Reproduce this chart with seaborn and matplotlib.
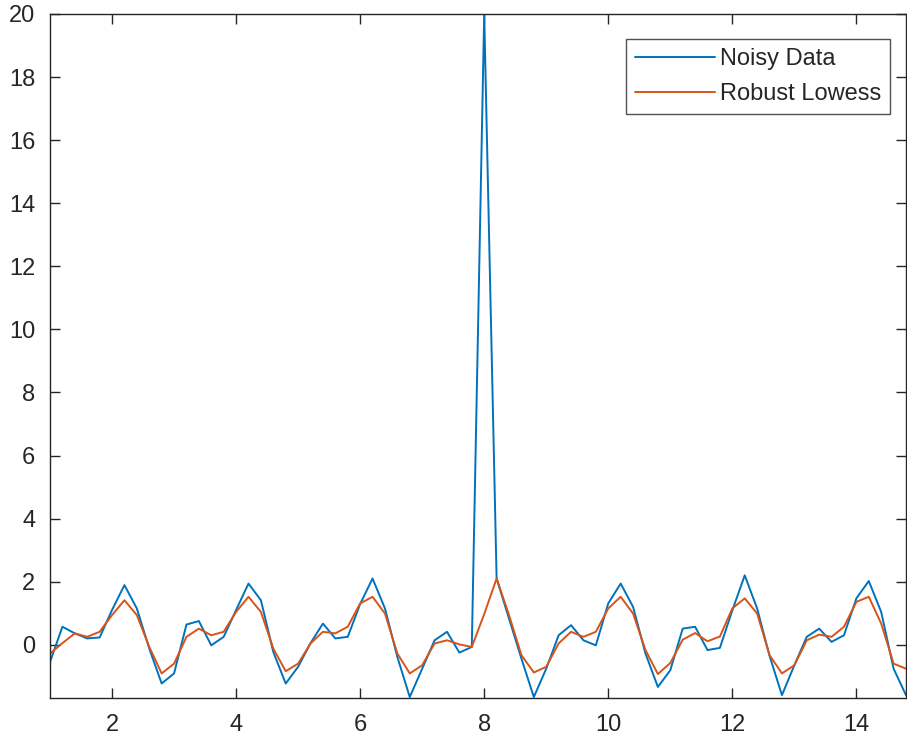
import numpy as np
import pandas as pd
import matplotlib
matplotlib.use("Agg")
import matplotlib.pyplot as plt
import seaborn as sns

x_values = [1.0 + 0.2 * i for i in range(70)]

noisy_data = [
    -0.55, 0.57, 0.36, 0.20, 0.23, 1.10, 1.89, 1.15, -0.12, -1.23,
    -0.91, 0.64, 0.75, -0.02, 0.25, 1.10, 1.94, 1.41, -0.23, -1.23,
    -0.70, 0.05, 0.67, 0.20, 0.25, 1.29, 2.10, 1.15, -0.39, -1.66,
    -0.76, 0.14, 0.41, -0.25, -0.07, 20.0, 2.10, 0.83, -0.44, -1.66,
    -0.76, 0.30, 0.62, 0.14, -0.02, 1.31, 1.94, 1.20, -0.28, -1.34,
    -0.81, 0.51, 0.57, -0.17, -0.10, 1.09, 2.20, 1.15, -0.35, -1.60,
    -0.65, 0.25, 0.51, 0.09, 0.30, 1.47, 2.02, 1.04, -0.76, -1.60,
]

robust_lowess = [
    -0.28, 0.05, 0.36, 0.25, 0.41, 0.94, 1.41, 0.94, -0.07, -0.91,
    -0.60, 0.25, 0.51, 0.30, 0.41, 1.04, 1.52, 1.04, -0.12, -0.84,
    -0.60, 0.04, 0.41, 0.36, 0.57, 1.31, 1.52, 0.99, -0.28, -0.91,
    -0.65, 0.04, 0.14, 0.01, -0.07, 0.97, 2.10, 0.94, -0.33, -0.88,
    -0.70, 0.04, 0.41, 0.25, 0.41, 1.15, 1.52, 0.99, -0.17, -0.93,
    -0.58, 0.16, 0.37, 0.11, 0.26, 1.15, 1.47, 0.99, -0.33, -0.91,
    -0.65, 0.14, 0.32, 0.25, 0.57, 1.36, 1.52, 0.67, -0.60, -0.76,
]

series_names = ["Noisy Data", "Robust Lowess"]
series_colors = ["#0072BD", "#D95319"]
x_ticks = [2, 4, 6, 8, 10, 12, 14]
y_ticks = [0, 2, 4, 6, 8, 10, 12, 14, 16, 18, 20]

sns.set_theme(style="white")
plt.rcParams["font.family"] = ["Liberation Sans", "DejaVu Sans"]

W, H = 907, 741
fig = plt.figure(figsize=(W / 100, H / 100), dpi=100)
left, right, top, bottom = 50, 906, 14, 697.7
ax = fig.add_axes([left / W, (H - bottom) / H, (right - left) / W, (bottom - top) / H])

df = pd.DataFrame({
    "x": x_values * 2,
    "y": noisy_data + robust_lowess,
    "series": [series_names[0]] * len(x_values) + [series_names[1]] * len(x_values),
})

sns.lineplot(data=df, x="x", y="y", hue="series", hue_order=series_names,
             palette=series_colors, linewidth=1.4, ax=ax, sort=False)

ax.set_xlim(1, 14.8)
ax.set_ylim(-1.68, 20)
ax.set_xticks(x_ticks)
ax.set_yticks(y_ticks)
ax.set_xlabel("")
ax.set_ylabel("")

axc = "#262626"
for s in ax.spines.values():
    s.set_visible(True)
    s.set_color(axc)
    s.set_linewidth(1.0)
ax.tick_params(direction="in", length=7, width=1.0, color=axc, labelcolor=axc,
               labelsize=17, top=True, right=True, left=True, bottom=True)
ax.tick_params(axis="x", pad=11.5)
ax.tick_params(axis="y", pad=10.5)

handles, labels = ax.get_legend_handles_labels()
leg = ax.legend(handles, labels, loc="upper right",
                bbox_to_anchor=((890 - left) / (right - left), (bottom - 39.3) / (bottom - top)),
                borderaxespad=0, fontsize=17, frameon=True, fancybox=False,
                handlelength=3.4, handletextpad=0.2, labelspacing=0.54,
                borderpad=0.38)
leg.get_frame().set_edgecolor(axc)
leg.get_frame().set_linewidth(1.0)
for t in leg.get_texts():
    t.set_color(axc)

fig.savefig("out.png", dpi=100)
